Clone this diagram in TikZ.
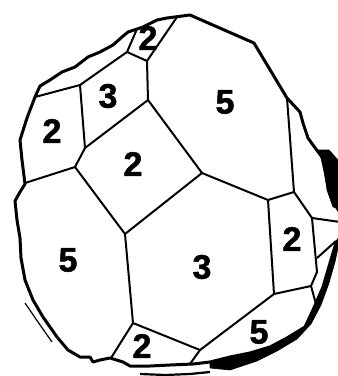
\documentclass[tikz,border=0pt]{standalone}
\usepackage{fontspec}
\setmainfont{Liberation Sans}[BoldFeatures={FakeBold=1.5}]
\tikzset{
  rim/.style={line width=3pt, line join=round, line cap=round},
  seam/.style={line width=2pt, line join=round},
  crust/.style={fill=black, draw=black, line width=0.6pt, line join=round},
  face/.style={font=\fontsize{34}{34}\selectfont\bfseries, inner sep=0pt}
}

\begin{document}
\begin{tikzpicture}[x=1pt, y=-1pt]
  \useasboundingbox (0,0) rectangle (338,376);
  % inner corners
  \coordinate (a) at (127,52);
  \coordinate (b) at (147,61);
  \coordinate (c) at (148,100);
  \coordinate (d) at (80,85);
  \coordinate (e) at (85,148);
  \coordinate (f) at (75,167);
  \coordinate (g) at (202,173);
  \coordinate (h) at (125,234);
  \coordinate (i) at (133,323);
  \coordinate (j) at (268,200);
  \coordinate (k) at (294,192);
  \coordinate (l) at (312,218);
  \coordinate (m) at (317,272);
  \coordinate (n) at (311,286);
  \coordinate (o) at (274,294);
  \coordinate (p) at (200,350);
  \coordinate (q) at (317,258);
  % ends on the rim
  \coordinate (a0) at (137,29);
  \coordinate (b0) at (177,17);
  \coordinate (d0) at (35,97);
  \coordinate (f0) at (25,183);
  \coordinate (i0) at (111,358);
  \coordinate (p0) at (190,364);
  \coordinate (k0) at (287,98);
  \coordinate (l0) at (340,222);
  \coordinate (q0) at (336,241);
  \coordinate (n0) at (316,304);

  % dark rim on the right and below
  \fill[crust] (318,150) -- (329,150) -- (338,160) -- (338,208) -- (333,207)
    -- (327,190) -- (323,163) -- cycle;
  \fill[crust] (336,243) -- (330,263) -- (323,287) -- (313,310) -- (305,327)
    -- (287,338) -- (270,347) -- (250,353) -- (230,357) -- (210,362)
    -- (210,368) -- (230,370) -- (257,361) -- (277,351) -- (297,339)
    -- (311,324) -- (321,305) -- (329,283) -- (335,262) -- (339,243) -- cycle;
  \draw[line width=2.2pt] (140,374) -- (165,375) -- (190,374) -- (210,372);
  \draw[line width=1.2pt] (25,303) -- (38,322) -- (52,342);

  % outline
  \draw[rim] (35,97) -- (40,86) -- (50,80) -- (62,72) -- (75,67) -- (88,57)
    -- (100,52) -- (113,45) -- (122,37) -- (128,32) -- (143,27) -- (157,20)
    -- (167,18) -- (190,15) -- (254,43) -- (287,98) -- (300,112) -- (303,123)
    -- (308,138) -- (313,145) -- (322,157) -- (327,180) -- (335,205)
    -- (342,215) -- (342,235) -- (336,243) -- (330,263) -- (323,287)
    -- (313,310) -- (305,327) -- (287,338) -- (270,347) -- (250,353)
    -- (230,357) -- (210,362) -- (193,364) -- (170,365) -- (150,366)
    -- (140,366) -- (130,366) -- (123,362) -- (110,358) -- (100,360)
    -- (93,362) -- (90,357) -- (80,357) -- (68,350) -- (57,337) -- (43,317)
    -- (33,300) -- (25,280) -- (21,258) -- (20,238) -- (17,220)
    -- (15,201) -- (20,192) -- (25,184) -- (22,160) -- (20,140) -- (27,118)
    -- cycle;

  % seams
  \draw[seam] (a0) -- (a) -- (b) -- (b0);
  \draw[seam] (d0) -- (d) -- (a);
  \draw[seam] (b) -- (c) -- (e) -- (d);
  \draw[seam] (e) -- (f) -- (f0);
  \draw[seam] (f) -- (h) -- (g) -- (c);
  \draw[seam] (g) -- (j) -- (k) -- (k0);
  \draw[seam] (k) -- (l) -- (l0);
  \draw[seam] (l) -- (m) -- (n) -- (o) -- (j);
  \draw[seam] (q) -- (q0);
  \draw[seam] (n) -- (n0);
  \draw[seam] (o) -- (p) -- (i) -- (h);
  \draw[seam] (p) -- (p0);
  \draw[seam] (i) -- (i0);

  % counts
  \node[face] (top)   at (148,38)  {2};
  \node[face] (upl)   at (108,96)  {3};
  \node[face] (left)  at (52,131)  {2};
  \node[face] (mid)   at (133,164) {2};
  \node[face] (big)   at (225,102) {5};
  \node[face] (west)  at (68,260)  {5};
  \node[face] (low)   at (202,267) {3};
  \node[face] (east)  at (292,239) {2};
  \node[face] (south) at (259,332) {5};
  \node[face] (foot)  at (142,346) {2};
\end{tikzpicture}
\end{document}
